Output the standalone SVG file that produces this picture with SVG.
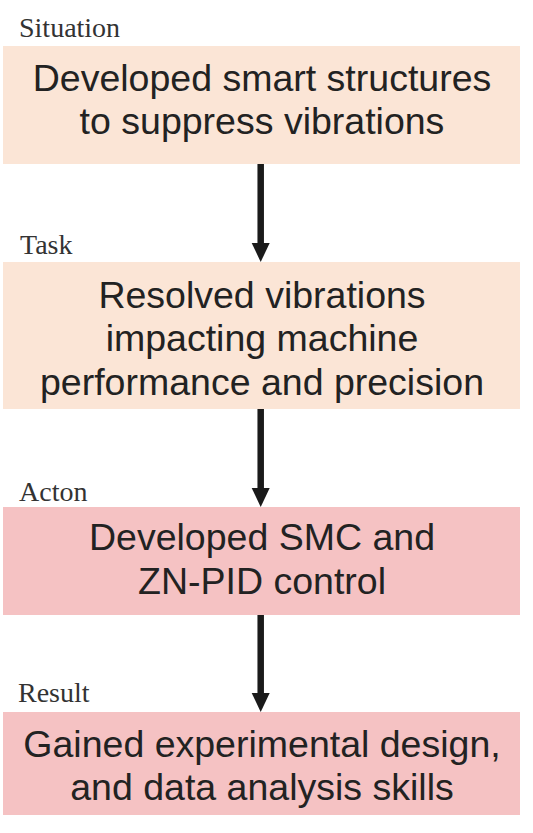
<svg xmlns="http://www.w3.org/2000/svg" width="533" height="833" viewBox="0 0 533 833">
<style>
.lbl{font-family:"Liberation Serif","Times New Roman",serif;font-size:28px;fill:#333}
.txt{font-family:"Liberation Sans",Arial,sans-serif;font-size:37.5px;fill:#222;text-anchor:middle}
.peach{fill:#FBE5D6}
.pink{fill:#F5C2C3}
.conn{stroke:#1a1a1a;stroke-width:6.5;fill:none}
.head{fill:#1a1a1a}
</style>
<rect width="533" height="833" fill="#fff"/>
<g id="situation">
<text class="lbl" x="19" y="37">Situation</text>
<rect class="peach" x="3" y="46" width="517" height="118"/>
<text class="txt" x="262" y="91">Developed smart structures</text>
<text class="txt" x="262" y="134">to suppress vibrations</text>
</g>
<g id="task">
<text class="lbl" x="20" y="254">Task</text>
<rect class="peach" x="3" y="262" width="517" height="147"/>
<text class="txt" x="262" y="308">Resolved vibrations</text>
<text class="txt" x="262" y="351">impacting machine</text>
<text class="txt" x="262" y="395">performance and precision</text>
</g>
<g id="action">
<text class="lbl" x="19" y="501">Acton</text>
<rect class="pink" x="3" y="507" width="517" height="108"/>
<text class="txt" x="262" y="550">Developed SMC and</text>
<text class="txt" x="262" y="594">ZN-PID control</text>
</g>
<g id="result">
<text class="lbl" x="18" y="702">Result</text>
<rect class="pink" x="3" y="712" width="517" height="103"/>
<text class="txt" x="262" y="757">Gained experimental design,</text>
<text class="txt" x="262" y="800">and data analysis skills</text>
</g>
<g id="connectors">
<line class="conn" x1="260.7" y1="164" x2="260.7" y2="245"/>
<polygon class="head" points="251.7,243 269.7,243 260.7,262"/>
<line class="conn" x1="260.7" y1="409" x2="260.7" y2="490"/>
<polygon class="head" points="251.7,488 269.7,488 260.7,507"/>
<line class="conn" x1="260.7" y1="615" x2="260.7" y2="695"/>
<polygon class="head" points="251.7,693 269.7,693 260.7,712"/>
</g>
</svg>
